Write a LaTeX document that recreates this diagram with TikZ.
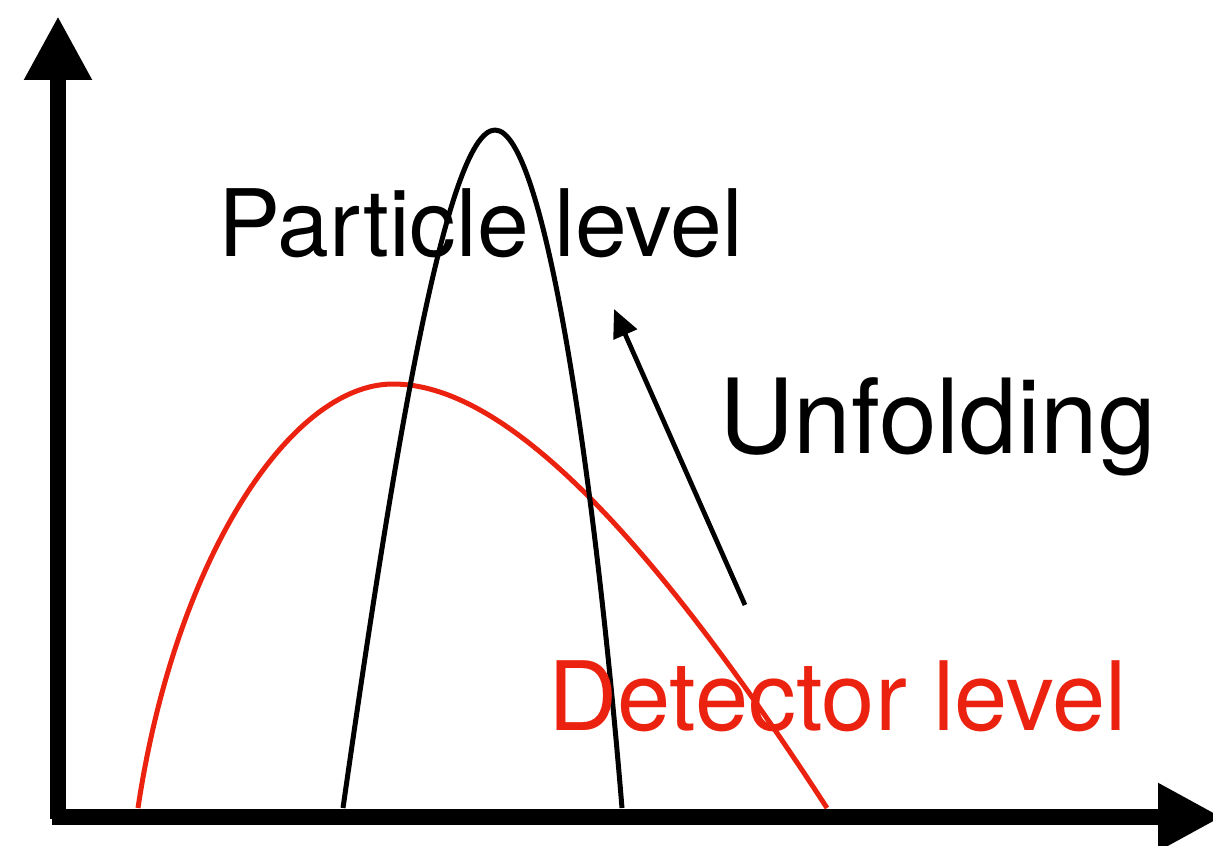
\documentclass[tikz,border=0pt]{standalone}
\usepackage{fontspec}
\setmainfont{TeX Gyre Heros}
\usepackage{xcolor}
\usetikzlibrary{arrows.meta,positioning}
\definecolor{detred}{RGB}{236,34,16}

\begin{document}
\begin{tikzpicture}[
  x=0.02cm, y=-0.02cm,
  axis/.style={line width=0.32cm,-{Triangle[length=1.28cm,width=1.27cm]}},
  curve/.style={line width=0.1cm,line join=round},
  lbl/.style={inner sep=0pt,anchor=base west,font=\fontsize{53}{60}\selectfont},
  unf/.style={line width=0.095cm,-{Triangle[length=0.56cm,width=0.5cm]}}
]
  \useasboundingbox (0,0) rectangle (1213,845);

  % Axes
  \coordinate (origin) at (58,817);
  \coordinate (ytop)   at (58,16);
  \coordinate (xend)   at (1222,817);
  \draw[axis] ([yshift=-0.04cm]origin) -- (ytop);
  \draw[axis] ([xshift=-0.12cm]origin) -- (xend);

  % Detector level distribution
  \coordinate (dleft)  at (138,808);
  \coordinate (dpeak)  at (393,384);
  \coordinate (dright) at (827,808);
  \draw[curve,detred] (dleft) .. controls (175,560) and (290,384) .. (dpeak)
                              .. controls (500,384) and (640,520) .. (dright);

  % Particle level distribution
  \coordinate (pleft)  at (343,808);
  \coordinate (ppeak)  at (495,130);
  \coordinate (pright) at (622,808);
  \draw[curve] (pleft) .. controls (390,480) and (445,130) .. (ppeak)
               .. controls (545,130) and (595,480) .. (pright);

  % Labels
  \node[lbl] (particle) at (218,256) {Particle level};
  \node[lbl,font=\fontsize{59}{66}\selectfont] (unfold) at (719,453) {Unfolding};
  \node[lbl,text=detred,font=\fontsize{54.5}{62}\selectfont] (detector) at (548,730) {Detector level};

  % Unfolding arrow
  \coordinate (ufrom) at (745,605);
  \coordinate (uto)   at (614,309);
  \draw[unf] (ufrom) -- (uto);
\end{tikzpicture}
\end{document}
